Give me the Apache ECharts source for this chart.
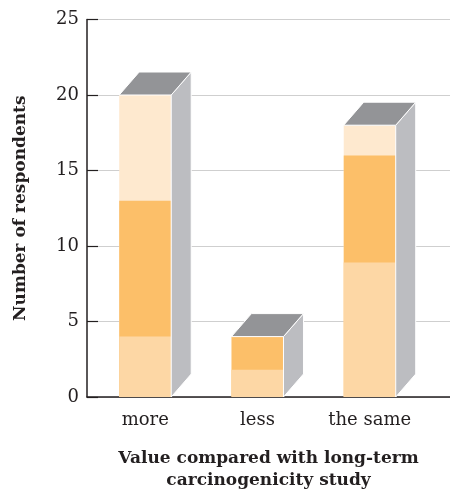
<!DOCTYPE html>
<html>
<head>
<meta charset="utf-8">
<script src="https://cdn.jsdelivr.net/npm/echarts@6/dist/echarts.min.js"></script>
<style>html,body{margin:0;padding:0;background:#fff}#c{width:450px;height:489px}</style>
</head>
<body>
<div id="c"></div>
<script>
var categories = ['more', 'less', 'the same'];
var bottomSeg = [4, 1.8, 8.9];
var middleSeg = [9, 2.2, 7.1];
var topSeg = [7, 0, 2];
var yTicks = [0, 5, 10, 15, 20, 25];

var FONT = 'DejaVu Serif';
var INK = '#231f20';
var colors = ['#fdd7a5', '#fcbf69', '#fee9cf'];
var sideColor = '#bcbdc1';
var topColor = '#939497';

var data = categories.map(function (c, i) {
  return [i, bottomSeg[i], middleSeg[i], topSeg[i]];
});

var chart = echarts.init(document.getElementById('c'), null, {renderer: 'canvas'});

function renderItem(params, api) {
  var x = api.value(0);
  var segs = [api.value(1), api.value(2), api.value(3)];
  var halfW = 26, dx = 20, dy = 23;
  var children = [];
  var base = api.coord([x, 0]);
  var cx = base[0];
  var cum = [segs[0], segs[0] + segs[1], segs[0] + segs[1] + segs[2]];
  for (var s = 2; s >= 0; s--) {
    if (!segs[s]) { continue; }
    var p1 = api.coord([x, cum[s]]);
    children.push({
      type: 'rect',
      shape: {x: cx - halfW, y: p1[1], width: halfW * 2, height: base[1] - p1[1]},
      style: {fill: colors[s]}
    });
  }
  var topY = api.coord([x, cum[2]])[1];
  var botY = base[1];
  var r = cx + halfW, l = cx - halfW;
  children.push({
    type: 'polygon',
    shape: {points: [[r, topY], [r + dx, topY - dy], [r + dx, botY - dy], [r, botY]]},
    style: {fill: sideColor, stroke: '#fff', lineWidth: 1}
  });
  children.push({
    type: 'polygon',
    shape: {points: [[l, topY], [r, topY], [r + dx, topY - dy], [l + dx, topY - dy]]},
    style: {fill: topColor, stroke: '#fff', lineWidth: 1}
  });
  return {type: 'group', children: children};
}

var option = {
  animation: false,
  grid: {left: 87, right: 0, top: 19.5, bottom: 92, containLabel: false, outerBoundsMode: 'none'},
  xAxis: {
    type: 'value',
    min: -0.5185,
    max: 2.715,
    axisLine: {show: true, onZero: false, lineStyle: {color: INK, width: 1.5}},
    axisTick: {show: false},
    splitLine: {show: false},
    axisLabel: {
      customValues: [0, 1, 2],
      formatter: function (v) { return categories[Math.round(v)]; },
      fontFamily: FONT, fontSize: 18, color: INK, margin: 14
    },
    name: 'Value compared with long-term\ncarcinogenicity study',
    nameLocation: 'middle',
    nameGap: 51,
    nameTextStyle: {fontFamily: FONT, fontWeight: 'bold', fontSize: 17, color: INK, lineHeight: 22}
  },
  yAxis: {
    type: 'value',
    min: 0, max: 25, interval: 5,
    axisLine: {show: true, onZero: false, lineStyle: {color: INK, width: 1.5}},
    axisTick: {show: true, inside: true, length: 11, lineStyle: {color: INK, width: 1.2}},
    splitLine: {show: true, lineStyle: {color: '#cfcfcf', width: 1}},
    axisLabel: {
      customValues: yTicks,
      fontFamily: FONT, fontSize: 18, color: INK, margin: 8
    },
    name: 'Number of respondents',
    nameLocation: 'middle',
    nameRotate: 90,
    nameGap: 58,
    nameTextStyle: {fontFamily: FONT, fontWeight: 'bold', fontSize: 17, color: INK}
  },
  series: [{
    type: 'custom',
    renderItem: renderItem,
    encode: {x: 0, y: [1, 2, 3]},
    data: data,
    clip: false
  }]
};
chart.setOption(option);
</script>
</body>
</html>
